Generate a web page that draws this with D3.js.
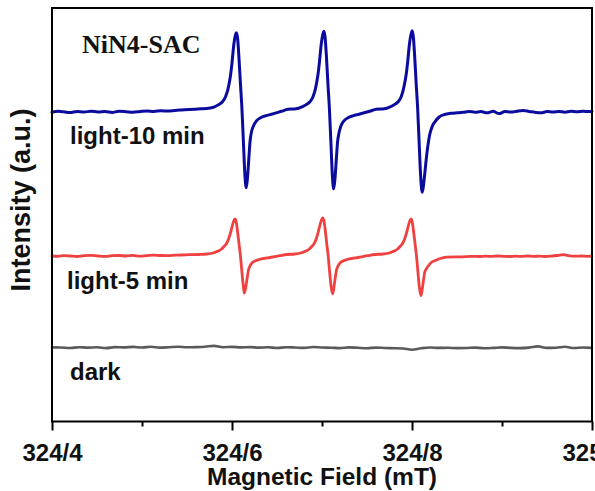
<!DOCTYPE html>
<html>
<head>
<meta charset="utf-8">
<script src="https://cdn.jsdelivr.net/npm/d3@7"></script>
<style>
  html, body { margin: 0; padding: 0; background: #fff; overflow: hidden; }
  svg { display: block; }
</style>
</head>
<body>
<svg id="chart" width="595" height="491"></svg>
<script>
// Axis ticks (mT) and their printed labels
const fieldTicks = [324.4, 324.6, 324.8, 325.0];
const fieldTickLabels = ["324/4", "324/6", "324/8", "325/0"];
const minorTicks = [324.5, 324.7, 324.9];

// Trace names, colours and vertical stacking offsets (a.u.)
const seriesNames = ["light-10 min", "light-5 min", "dark"];
const seriesColors = ["#0b0b9e", "#f04141", "#5a5a5a"];
const seriesOffsets = [309.7, 165.5, 73.8];

// EPR spectrum after 10 min irradiation: [field (mT), signal (a.u.)]
const light10 = [
  [324.4000, -0.5], [324.4067, 0.5], [324.4133, 0], [324.4200, -0.8], [324.4278, 0.4],
  [324.4356, -0.3], [324.4433, 0.6], [324.4511, -0.2], [324.4589, 0.2], [324.4667, -0.6],
  [324.4744, 0.5], [324.4822, 0.1], [324.4900, -0.5], [324.4978, 0.3], [324.5056, 0.9],
  [324.5133, 0.4], [324.5211, 1.0], [324.5289, 0.8], [324.5367, 1.4], [324.5444, 1.8],
  [324.5522, 2.2],
  [324.5650, 3], [324.5739, 3.5], [324.5806, 5], [324.5850, 7], [324.5894, 10],
  [324.5928, 15], [324.5956, 23], [324.5983, 36], [324.6000, 49], [324.6020, 67],
  [324.6036, 76], [324.6050, 79], [324.6064, 72], [324.6078, 53], [324.6094, 28],
  [324.6111, 2], [324.6128, -33], [324.6144, -64], [324.6158, -76], [324.6172, -66],
  [324.6189, -44], [324.6200, -30], [324.6217, -20], [324.6239, -14], [324.6272, -9],
  [324.6317, -6], [324.6372, -4], [324.6439, -2.5], [324.6550, 0.5],
  [324.6622, 2.5], [324.6711, 3], [324.6778, 5], [324.6822, 7], [324.6866, 10],
  [324.6900, 15], [324.6928, 23.5], [324.6955, 37], [324.6972, 50], [324.6992, 68],
  [324.7008, 77], [324.7022, 80.5], [324.7036, 73], [324.7050, 54], [324.7066, 28],
  [324.7083, 2], [324.7100, -33], [324.7116, -65], [324.7130, -77], [324.7144, -67],
  [324.7161, -45], [324.7172, -31], [324.7189, -21], [324.7211, -14], [324.7244, -9],
  [324.7289, -6], [324.7344, -4], [324.7411, -2.5], [324.7530, 0.5],
  [324.7602, 2.5], [324.7691, 3], [324.7758, 5], [324.7802, 7], [324.7846, 10],
  [324.7880, 15], [324.7908, 24], [324.7935, 37], [324.7952, 50], [324.7972, 68],
  [324.7988, 77], [324.8002, 81], [324.8016, 74], [324.8030, 55], [324.8046, 29],
  [324.8063, 3], [324.8080, -32], [324.8096, -64], [324.8113, -80.5], [324.8127, -74],
  [324.8144, -60], [324.8161, -45], [324.8183, -30], [324.8199, -22], [324.8227, -14],
  [324.8255, -10], [324.8305, -5], [324.8329, -3.7], [324.8440, -1.4],
  [324.8500, -1], [324.8567, -0.5], [324.8633, 0.3], [324.8700, -0.4], [324.8767, 0.2],
  [324.8833, -1.0], [324.8900, 0.5], [324.8967, -1.8], [324.9033, 0.3], [324.9100, -0.3],
  [324.9167, 0.6], [324.9233, 1.2], [324.9300, 0.4], [324.9367, -0.5], [324.9433, -1.0],
  [324.9500, 0.2], [324.9567, -0.3], [324.9633, 0.4], [324.9700, -0.4], [324.9767, 0.5],
  [324.9833, 0.1], [324.9900, 0.6], [324.9967, 0.2], [325.0000, 0.3]
];

// EPR spectrum after 5 min irradiation
const light5 = [
  [324.4000, 0], [324.4067, -0.3], [324.4133, 0.4], [324.4200, 0], [324.4278, -0.5],
  [324.4356, 0.3], [324.4433, 0.6], [324.4511, 0], [324.4589, -0.4], [324.4667, 0.3],
  [324.4744, 0.5], [324.4822, 0], [324.4900, 0.6], [324.4978, -0.2], [324.5056, 0.4],
  [324.5133, 0.9], [324.5211, 0.5], [324.5289, 0.4], [324.5367, 0.8], [324.5444, 1.0],
  [324.5522, 1.3],
  [324.5633, 1.5], [324.5722, 2], [324.5789, 3], [324.5833, 4.5], [324.5877, 6.5],
  [324.5911, 9.5], [324.5939, 12.5], [324.5966, 18], [324.5983, 23], [324.6003, 30],
  [324.6019, 35], [324.6033, 37], [324.6047, 34], [324.6061, 25], [324.6077, 13],
  [324.6094, 0], [324.6111, -17], [324.6127, -31], [324.6137, -37], [324.6155, -30],
  [324.6172, -20], [324.6183, -14], [324.6200, -10], [324.6222, -7], [324.6255, -5],
  [324.6300, -3.5], [324.6355, -2.5], [324.6422, -1.5], [324.6533, 0.3],
  [324.6608, 1.5], [324.6697, 2], [324.6764, 3], [324.6808, 4.5], [324.6852, 6.5],
  [324.6886, 9.5], [324.6914, 12.5], [324.6941, 18.5], [324.6958, 24], [324.6978, 31],
  [324.6994, 36], [324.7008, 38.2], [324.7022, 35], [324.7036, 26], [324.7052, 13],
  [324.7069, 0], [324.7086, -17], [324.7102, -31], [324.7119, -37.8], [324.7133, -31],
  [324.7150, -20], [324.7161, -14], [324.7178, -10], [324.7200, -7], [324.7233, -5],
  [324.7278, -3.5], [324.7333, -2.5], [324.7400, -1.5], [324.7508, 0.3],
  [324.7589, 1.5], [324.7678, 2], [324.7745, 3], [324.7789, 4.5], [324.7833, 6.5],
  [324.7867, 9.5], [324.7895, 12.5], [324.7922, 18], [324.7939, 23], [324.7959, 30],
  [324.7975, 35], [324.7989, 37.2], [324.8003, 34], [324.8017, 25], [324.8033, 13],
  [324.8050, 0], [324.8067, -17], [324.8083, -32], [324.8100, -39.5], [324.8114, -33],
  [324.8131, -22], [324.8142, -16], [324.8159, -13], [324.8181, -10], [324.8214, -6.5],
  [324.8259, -4.5], [324.8314, -2.5], [324.8381, -1.2], [324.8489, -0.8],
  [324.8550, -0.8], [324.8617, -0.6], [324.8683, -0.3], [324.8750, -0.5], [324.8817, -0.2],
  [324.8883, -0.4], [324.8950, 0], [324.9017, -0.3], [324.9083, -0.5], [324.9150, -0.2],
  [324.9217, -0.4], [324.9283, 0], [324.9350, -0.3], [324.9417, -0.2], [324.9483, -0.5],
  [324.9550, -0.1], [324.9617, 0.5], [324.9683, 1.3], [324.9750, 0.2], [324.9817, -0.2],
  [324.9883, 0], [324.9950, -0.3], [325.0000, -0.2]
];

// EPR spectrum in the dark
const dark = [
  [324.40, 0.3], [324.41, 0.2], [324.42, -0.3], [324.43, 0.5], [324.44, 0.1],
  [324.45, 0.4], [324.46, -0.4], [324.47, 0.6], [324.48, 0.3], [324.49, 0.8],
  [324.50, 0.2], [324.51, 0.9], [324.52, 0.1], [324.53, 0.5], [324.54, 0.9],
  [324.55, 0.4], [324.56, 0.6], [324.57, 1.0], [324.58, 1.8], [324.59, 0.5],
  [324.60, 0.8], [324.61, 0.3], [324.62, 0.6], [324.63, 0.1], [324.64, 0.4],
  [324.65, -0.3], [324.66, 0.5], [324.67, 0.2], [324.68, -0.2], [324.69, 0.7],
  [324.70, 0.2], [324.71, 0], [324.72, -0.4], [324.73, 0.3], [324.74, -0.1],
  [324.75, -0.5], [324.76, 0.1], [324.77, -0.3], [324.78, -0.5], [324.79, -0.8],
  [324.80, -2.0], [324.81, -0.6], [324.82, 0.2], [324.83, -0.2], [324.84, -0.1],
  [324.85, -0.4], [324.86, -0.3], [324.87, 0.1], [324.88, -0.5], [324.89, -0.2],
  [324.90, 0.3], [324.91, -0.2], [324.92, -0.4], [324.93, 0.1], [324.94, 1.3],
  [324.95, -0.2], [324.96, 0], [324.97, 0.9], [324.98, -0.3], [324.99, 0.2],
  [325.00, -0.2]
];

const spectra = [light10, light5, dark];

const svg = d3.select("#chart");
const sansBold = "'Liberation Sans', Arial, Helvetica, sans-serif";

svg.append("rect").attr("width", 595).attr("height", 491).attr("fill", "#fff");

const plot = { left: 52, right: 592, top: 8, bottom: 421.5 };

const x = d3.scaleLinear().domain([324.4, 325.0]).range([plot.left, plot.right]);
const y = d3.scaleLinear().domain([0, 413.5]).range([plot.bottom, plot.top]);

// Traces
const line = d3.line()
  .x(d => x(d[0]))
  .y(d => y(d[1]))
  .curve(d3.curveMonotoneX);

const traceWidths = [3, 2.8, 2.6];
spectra.forEach((s, i) => {
  const shifted = s.map(d => [d[0], d[1] + seriesOffsets[i]]);
  svg.append("path")
    .datum(shifted)
    .attr("fill", "none")
    .attr("stroke", seriesColors[i])
    .attr("stroke-width", traceWidths[i])
    .attr("stroke-linejoin", "round")
    .attr("stroke-linecap", "round")
    .attr("d", line);
});

// Frame
svg.append("rect")
  .attr("x", plot.left).attr("y", plot.top)
  .attr("width", plot.right - plot.left).attr("height", plot.bottom - plot.top)
  .attr("fill", "none").attr("stroke", "#000").attr("stroke-width", 2);

// Bottom axis: major ticks with labels
const xAxis = d3.axisBottom(x)
  .tickValues(fieldTicks)
  .tickFormat((d, i) => fieldTickLabels[i])
  .tickSize(9)
  .tickPadding(13);

const gx = svg.append("g")
  .attr("transform", `translate(0,${plot.bottom})`)
  .call(xAxis);
gx.select(".domain").remove();
gx.selectAll(".tick line").attr("stroke", "#000").attr("stroke-width", 2);
gx.selectAll(".tick text")
  .attr("fill", "#111")
  .style("font-family", sansBold)
  .style("font-weight", "bold")
  .style("font-size", "24px");

// Bottom axis: minor ticks
const gxMinor = svg.append("g")
  .attr("transform", `translate(0,${plot.bottom})`)
  .call(d3.axisBottom(x).tickValues(minorTicks).tickFormat("").tickSize(5));
gxMinor.select(".domain").remove();
gxMinor.selectAll(".tick line").attr("stroke", "#000").attr("stroke-width", 2);

// Axis titles
svg.append("text")
  .attr("x", 322).attr("y", 485)
  .attr("text-anchor", "middle")
  .attr("fill", "#111")
  .style("font-family", sansBold)
  .style("font-weight", "bold")
  .style("font-size", "24.5px")
  .text("Magnetic Field (mT)");

svg.append("text")
  .attr("transform", "translate(29.5,200) rotate(-90)")
  .attr("text-anchor", "middle")
  .attr("fill", "#111")
  .style("font-family", sansBold)
  .style("font-weight", "bold")
  .style("font-size", "27px")
  .text("Intensity (a.u.)");

// Sample name
svg.append("text")
  .attr("x", 82).attr("y", 53)
  .attr("fill", "#111")
  .style("font-family", "'Liberation Serif', 'Times New Roman', serif")
  .style("font-weight", "bold")
  .style("font-size", "26px")
  .text("NiN4-SAC");

// Trace labels under each baseline
const labelX = [70, 67, 70];
seriesNames.forEach((name, i) => {
  svg.append("text")
    .attr("x", labelX[i])
    .attr("y", y(seriesOffsets[i]) + 32.5)
    .attr("fill", "#111")
    .style("font-family", sansBold)
    .style("font-weight", "bold")
    .style("font-size", "24px")
    .text(name);
});
</script>
</body>
</html>
